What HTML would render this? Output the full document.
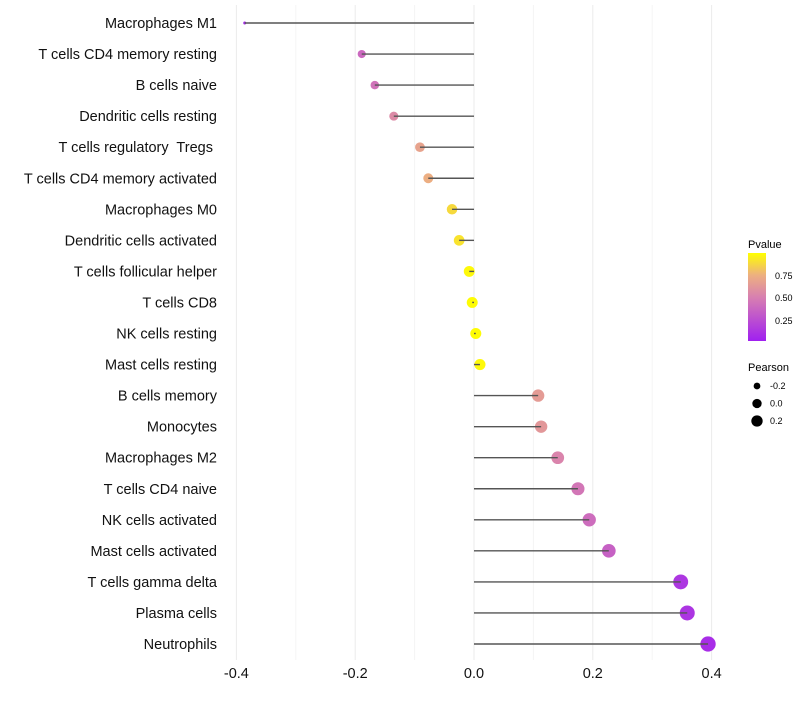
<!DOCTYPE html>
<html><head><meta charset="utf-8"><style>
body{margin:0;background:#fff;font-family:"Liberation Sans",sans-serif}
svg text{font-family:"Liberation Sans",sans-serif;white-space:pre}
</style></head><body>
<svg id="chart" width="800" height="700" xmlns="http://www.w3.org/2000/svg">
<g id="grid"></g>
<g id="dots"></g>
<g id="marks"></g>
<g id="ylabels"></g>
<g id="xlabels"></g>
<g id="legend">
<defs><linearGradient id="pg" x1="0" y1="1" x2="0" y2="0">
<stop offset="0" stop-color="#A020F0"/><stop offset="0.5" stop-color="#D880B0"/><stop offset="0.75" stop-color="#EDB080"/><stop offset="1" stop-color="#FFFF00"/></linearGradient></defs>
<text x="748" y="248" font-size="11">Pvalue</text>
<rect x="748" y="253" width="18" height="88" fill="url(#pg)"/>
<text x="775" y="279" font-size="9">0.75</text>
<text x="775" y="301" font-size="9">0.50</text>
<text x="775" y="324" font-size="9">0.25</text>
<text x="748" y="371" font-size="11">Pearson</text>
</g>
</svg>
<script>
const categories=["Macrophages M1","T cells CD4 memory resting","B cells naive","Dendritic cells resting","T cells regulatory  Tregs ","T cells CD4 memory activated","Macrophages M0","Dendritic cells activated","T cells follicular helper","T cells CD8","NK cells resting","Mast cells resting","B cells memory","Monocytes","Macrophages M2","T cells CD4 naive","NK cells activated","Mast cells activated","T cells gamma delta","Plasma cells","Neutrophils"];
const pearson=[-0.386,-0.189,-0.167,-0.135,-0.091,-0.077,-0.037,-0.025,-0.008,-0.003,0.003,0.010,0.108,0.113,0.141,0.175,0.194,0.227,0.348,0.359,0.394];
const pvalue=[0.05,0.38,0.43,0.55,0.68,0.74,0.88,0.91,0.98,0.99,0.99,0.98,0.64,0.62,0.52,0.45,0.40,0.34,0.12,0.11,0.07];
const xTicks=[-0.4,-0.2,0.0,0.2,0.4];
const xTickLabels=["-0.4","-0.2","0.0","0.2","0.4"];
const sizeLegend=[-0.2,0.0,0.2];
const NS="http://www.w3.org/2000/svg";
const x=v=>474+v*594;
const y=i=>23+i*31.05;
const r=v=>Math.sqrt(Math.max(1.5,2.25+(v+0.386)*72.5));
function hex(h){return [1,3,5].map(k=>parseInt(h.substr(k,2),16));}
const stopPos=[0,0.5,0.75,1];
const stops=[hex("#A020F0"),hex("#D880B0"),hex("#EDB080"),hex("#FFFF00")];
function col(p){p=Math.max(0,Math.min(1,p));let k=0;while(k<stopPos.length-2&&p>stopPos[k+1])k++;
const a=stops[k],b=stops[k+1],t=(p-stopPos[k])/(stopPos[k+1]-stopPos[k]);
return "rgb("+a.map((c,j)=>Math.round(c+(b[j]-c)*t)).join(",")+")";}
function el(tag,attrs,parent){const e=document.createElementNS(NS,tag);for(const k in attrs)e.setAttribute(k,attrs[k]);parent.appendChild(e);return e;}
const grid=document.getElementById("grid"),dots=document.getElementById("dots"),marks=document.getElementById("marks"),yl=document.getElementById("ylabels"),xl=document.getElementById("xlabels"),lg=document.getElementById("legend");
for(let k=-4;k<=4;k++){const v=k/10;const g=el("line",{x1:x(v),x2:x(v),y1:5,y2:660,stroke:k%2==0?"#ebebeb":"#f4f4f4","stroke-width":1},grid);

}
categories.forEach((c,i)=>{
const d=el("circle",{cx:x(pearson[i]),cy:y(i),r:r(pearson[i]),fill:col(pvalue[i])},dots);


const ln=el("line",{x1:x(0),x2:x(pearson[i]),y1:y(i),y2:y(i),stroke:"#555","stroke-width":1.4},marks);


const t=el("text",{x:217,y:y(i)+5,"text-anchor":"end","font-size":14.5,fill:"#111"},yl);t.textContent=c;


});
xTicks.forEach((v,i)=>{const t=el("text",{x:x(v),y:678,"text-anchor":"middle","font-size":14.5,fill:"#111"},xl);t.textContent=xTickLabels[i];

});
sizeLegend.forEach((v,i)=>{const cy=386+i*17.5;
const c=el("circle",{cx:757,cy:cy,r:r(v)*0.85,fill:"#000"},lg);


const t=el("text",{x:770,y:cy+3,"font-size":9},lg);t.textContent=v.toFixed(1);

});
</script>
</body></html>
